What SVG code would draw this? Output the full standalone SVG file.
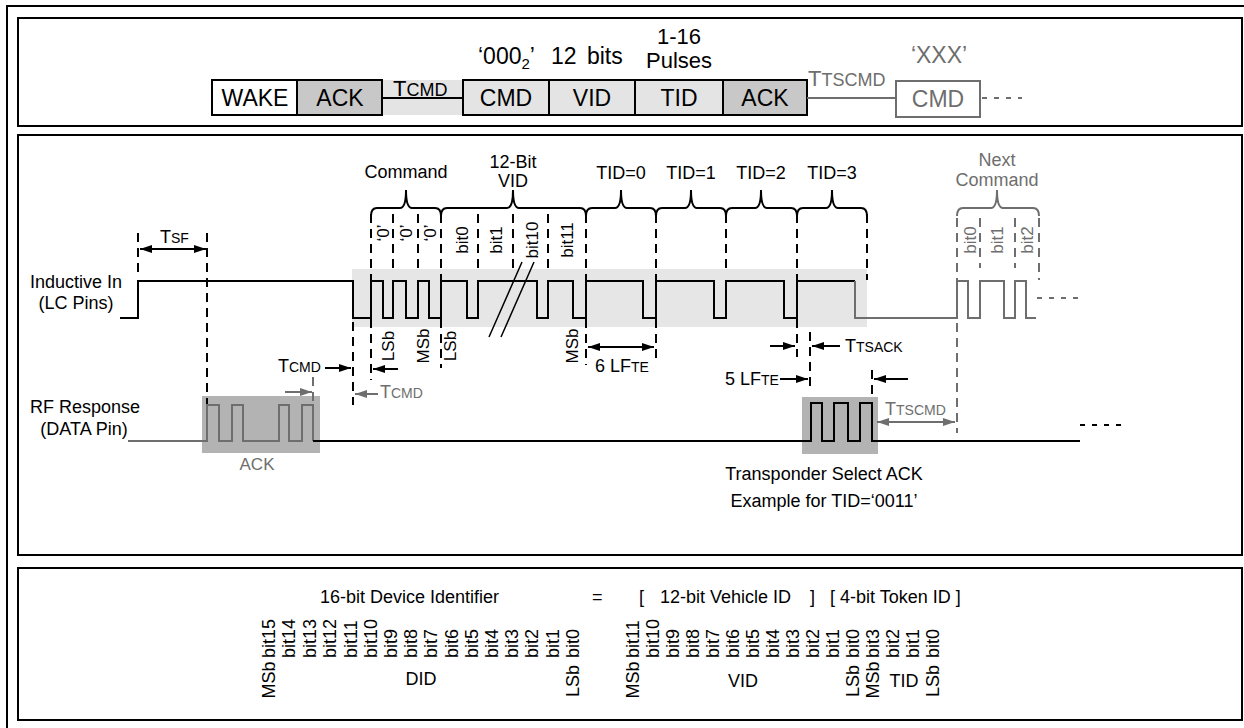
<svg xmlns="http://www.w3.org/2000/svg" width="1244" height="728" viewBox="0 0 1244 728">
<defs>
<style>
text{font-family:"Liberation Sans",Arial,Helvetica,sans-serif;fill:#000}
.g{fill:#6e6e6e}
.f23{font-size:23px}
.f18{font-size:18px}
.mid{text-anchor:middle}
.rt{font-size:17px;text-anchor:middle;dominant-baseline:central}
.rg{font-size:17px;text-anchor:middle;dominant-baseline:central;fill:#6e6e6e}
.rb{font-size:18px;text-anchor:start;dominant-baseline:central}
.rm{font-size:18px;text-anchor:middle;dominant-baseline:central}
.panel{fill:#fff;stroke:#000;stroke-width:2}
.box{stroke:#000;stroke-width:2}
.wave{fill:none;stroke:#000;stroke-width:2}
.waveg{fill:none;stroke:#6e6e6e;stroke-width:2}
.dash{fill:none;stroke:#000;stroke-width:2;stroke-dasharray:9 6}
.dashg{fill:none;stroke:#6e6e6e;stroke-width:2;stroke-dasharray:9 6}
.dot{fill:none;stroke:#000;stroke-width:2;stroke-dasharray:5 7}
.dotg{fill:none;stroke:#6e6e6e;stroke-width:2;stroke-dasharray:5 7}
.brace{fill:none;stroke:#000;stroke-width:2}
.braceg{fill:none;stroke:#6e6e6e;stroke-width:2}
.arr{fill:none;stroke:#000;stroke-width:2;marker-end:url(#ah)}
.arr2{fill:none;stroke:#000;stroke-width:2;marker-end:url(#ah);marker-start:url(#ah)}
.arrg{fill:none;stroke:#6e6e6e;stroke-width:2;marker-end:url(#ahg)}
.arrg2{fill:none;stroke:#6e6e6e;stroke-width:2;marker-end:url(#ahg);marker-start:url(#ahg)}
</style>
<marker id="ah" viewBox="0 0 12 8" refX="12" refY="4" markerWidth="12" markerHeight="8" markerUnits="userSpaceOnUse" orient="auto-start-reverse"><path d="M0,0 L12,4 L0,8 z" fill="#000"/></marker>
<marker id="ahg" viewBox="0 0 12 8" refX="12" refY="4" markerWidth="12" markerHeight="8" markerUnits="userSpaceOnUse" orient="auto-start-reverse"><path d="M0,0 L12,4 L0,8 z" fill="#6e6e6e"/></marker>
</defs>
<rect width="1244" height="728" fill="#fff"/>

<!-- outer frame -->
<g id="frame">
<path d="M7,728 V6 H1244" fill="none" stroke="#000" stroke-width="2"/>
<rect class="panel" x="18" y="18" width="1224" height="108"/>
<rect class="panel" x="18" y="135" width="1224" height="420"/>
<rect class="panel" x="18" y="568" width="1224" height="152"/>
</g>

<!-- top panel -->
<g id="top-sequence">
<rect x="382" y="80" width="81" height="35" fill="#e4e4e4"/>
<g id="box-wake"><rect class="box" x="212" y="80" width="85" height="35" fill="#fff"/><text class="f23 mid" x="255" y="106">WAKE</text></g>
<g id="box-ack1"><rect class="box" x="297" y="80" width="85" height="35" fill="#c8c8c8"/><text class="f23 mid" x="340" y="106">ACK</text></g>
<g id="box-cmd"><rect class="box" x="463" y="80" width="86" height="35" fill="#e4e4e4"/><text class="f23 mid" x="506" y="106">CMD</text></g>
<g id="box-vid"><rect class="box" x="549" y="80" width="86" height="35" fill="#e4e4e4"/><text class="f23 mid" x="592" y="106">VID</text></g>
<g id="box-tid"><rect class="box" x="635" y="80" width="88" height="35" fill="#e4e4e4"/><text class="f23 mid" x="679" y="106">TID</text></g>
<g id="box-ack2"><rect class="box" x="723" y="80" width="84" height="35" fill="#c8c8c8"/><text class="f23 mid" x="765" y="106">ACK</text></g>
<g id="box-cmd-next"><rect x="896" y="81" width="84" height="36" fill="#fff" stroke="#6e6e6e" stroke-width="2"/><text class="f23 mid g" x="938" y="107">CMD</text></g>
</g>
<g id="top-connectors">
<line x1="382" y1="98" x2="463" y2="98" stroke="#000" stroke-width="2"/>
<line x1="807" y1="98" x2="896" y2="98" stroke="#6e6e6e" stroke-width="2"/>
<line class="dotg" x1="982" y1="98" x2="1022" y2="98"/>
</g>
<g id="top-labels">
<text x="393" y="96" style="font-size:22px">T<tspan style="font-size:18px">CMD</tspan></text>
<text class="g" x="808" y="86" style="font-size:22px">T<tspan style="font-size:18px">TSCMD</tspan></text>
<text class="f23" x="478" y="64">‘000<tspan style="font-size:15px" dy="5">2</tspan><tspan dy="-5">’</tspan></text>
<text class="f23" x="551" y="64" word-spacing="4">12 bits</text>
<text class="mid" x="679" y="43.5" style="font-size:22px">1-16</text>
<text class="mid" x="679" y="68" style="font-size:22px">Pulses</text>
<text class="f23 mid g" x="939" y="63">‘XXX’</text>
</g>

<!-- middle panel -->
<g id="timing-backgrounds">
<rect x="352" y="269" width="515" height="58" fill="#e6e6e6"/>
<rect x="202" y="396" width="118" height="57" fill="#b3b3b3"/>
<rect x="802" y="397" width="76" height="57" fill="#b3b3b3"/>
</g>

<g id="signal-labels">
<text class="f18 mid" x="76" y="288">Inductive In</text>
<text class="f18 mid" x="76" y="309">(LC Pins)</text>
<text class="f18 mid" x="85" y="413">RF Response</text>
<text class="f18 mid" x="84" y="435">(DATA Pin)</text>
</g>

<g id="connectors">
<!-- dashed guides -->
<path class="dash" d="M138,233 V278 M207,233 V405 M353,322 V405 M371,214 V380 M393,214 V268 M418,214 V268 M441,214 V368 M478,214 V268 M513,214 V268 M548,214 V268 M586,214 V365 M656,214 V362 M726,214 V273 M797,214 V357 M867,214 V280 M810,332 V387 M872,370 V398"/>
<path class="dashg" d="M313,377 V403 M957,218 V433 M980,218 V268 M1015,218 V268 M1039,218 V280"/>
<!-- braces -->
<path class="brace" d="M371,216 Q371,208 377,208 H400 Q406,208 406,190 Q406,208 412,208 H435 Q441,208 441,216"/>
<path class="brace" d="M441,216 Q441,208 447,208 H507 Q513,208 513,190 Q513,208 519,208 H580 Q586,208 586,216"/>
<path class="brace" d="M586,216 Q586,208 592,208 H615 Q621,208 621,190 Q621,208 627,208 H650 Q656,208 656,216"/>
<path class="brace" d="M656,216 Q656,208 662,208 H685 Q691,208 691,190 Q691,208 697,208 H720 Q726,208 726,216"/>
<path class="brace" d="M726,216 Q726,208 732,208 H755 Q761,208 761,190 Q761,208 767,208 H791 Q797,208 797,216"/>
<path class="brace" d="M797,216 Q797,208 803,208 H826 Q832,208 832,190 Q832,208 838,208 H861 Q867,208 867,216"/>
<path class="braceg" d="M957,216 Q957,208 963,208 H991 Q997,208 997,190 Q997,208 1003,208 H1033 Q1039,208 1039,216"/>
<!-- waveforms -->
<path class="wave" d="M120,318 H138 V281 H353 V318 H371 V281 H383 V318 H393 V281 H406 V318 H418 V281 H429 V318 H441 V281 H467 V318 H478 V281 H537 V318 H548 V281 H573 V318 H586 V281 H643 V318 H656 V281 H714 V318 H726 V281 H784 V318 H797 V281 H855"/>
<path class="waveg" d="M855,281 V318 H957 V281 H968 V318 H980 V281 H1004 V318 H1015 V281 H1026 V318 H1036"/>
<path class="dotg" d="M1037,298 H1080"/>
<path d="M489,337 L522,262 M501,337 L534,262" stroke="#000" stroke-width="1.5" fill="none"/>
<path class="waveg" d="M128,441 H207 V405 H219 V441 H232 V405 H243 V441 H279 V405 H289 V441 H302 V405 H313 V441"/>
<path class="wave" d="M313,441 H811 V403 H822 V441 H834 V403 H848 V441 H860 V403 H872 V441 H1080"/>
<path class="dot" d="M1080,425 H1124"/>
<!-- arrows -->
<line class="arr2" x1="140" y1="249" x2="206" y2="249"/>
<line class="arr" x1="325" y1="368" x2="351" y2="368"/>
<line class="arr" x1="398" y1="369" x2="373" y2="369"/>
<line class="arrg" x1="285" y1="392" x2="312" y2="392"/>
<line class="arrg" x1="378" y1="394" x2="355" y2="394"/>
<line class="arr2" x1="588" y1="347" x2="654" y2="347"/>
<line class="arr" x1="770" y1="346" x2="795" y2="346"/>
<line class="arr" x1="840" y1="346" x2="812" y2="346"/>
<line class="arr" x1="780" y1="379" x2="808" y2="379"/>
<line class="arr" x1="908" y1="379" x2="874" y2="379"/>
<line class="arrg2" x1="877" y1="422" x2="955" y2="422"/>
</g>

<g id="timing-labels">
<text class="f18 mid" x="406" y="178">Command</text>
<text class="f18 mid" x="513" y="168">12-Bit</text>
<text class="f18 mid" x="513" y="187">VID</text>
<text class="f18 mid" x="621" y="179">TID=0</text>
<text class="f18 mid" x="691" y="179">TID=1</text>
<text class="f18 mid" x="761" y="179">TID=2</text>
<text class="f18 mid" x="832" y="179">TID=3</text>
<text class="f18 mid g" x="997" y="166">Next</text>
<text class="f18 mid g" x="997" y="186">Command</text>
<text x="160" y="243" style="font-size:18px">T<tspan style="font-size:14px">SF</tspan></text>
<text x="278" y="372" style="font-size:18px">T<tspan style="font-size:14px">CMD</tspan></text>
<text class="g" x="380" y="398" style="font-size:18px">T<tspan style="font-size:14px">CMD</tspan></text>
<text x="595" y="372" style="font-size:18px">6 LF<tspan style="font-size:14px">TE</tspan></text>
<text x="725" y="385" style="font-size:18px">5 LF<tspan style="font-size:14px">TE</tspan></text>
<text x="845" y="352" style="font-size:18px">T<tspan style="font-size:14px">TSACK</tspan></text>
<text class="g" x="885" y="415" style="font-size:18px">T<tspan style="font-size:14px">TSCMD</tspan></text>
<text class="mid g" x="257" y="470" style="font-size:17px">ACK</text>
<text class="f18 mid" x="824" y="480">Transponder Select ACK</text>
<text class="f18 mid" x="824" y="507">Example for TID=‘0011’</text>
<!-- rotated bit labels -->
<text class="rt" transform="translate(383,233) rotate(-90)">‘0’</text>
<text class="rt" transform="translate(406,233) rotate(-90)">‘0’</text>
<text class="rt" transform="translate(430,233) rotate(-90)">‘0’</text>
<text class="rt" transform="translate(462,240) rotate(-90)">bit0</text>
<text class="rt" transform="translate(496,240) rotate(-90)">bit1</text>
<text class="rt" transform="translate(532,240) rotate(-90)">bit10</text>
<text class="rt" transform="translate(567,240) rotate(-90)">bit11</text>
<text class="rt" transform="translate(388,346) rotate(-90)">LSb</text>
<text class="rt" transform="translate(423,346) rotate(-90)">MSb</text>
<text class="rt" transform="translate(450,346) rotate(-90)">LSb</text>
<text class="rt" transform="translate(572,346) rotate(-90)">MSb</text>
<text class="rg" transform="translate(970,240) rotate(-90)">bit0</text>
<text class="rg" transform="translate(997,240) rotate(-90)">bit1</text>
<text class="rg" transform="translate(1027,240) rotate(-90)">bit2</text>
</g>

<!-- bottom panel -->
<g id="identifier">
<text class="f18" x="320" y="603">16-bit Device Identifier</text>
<text class="f18" x="592" y="603">=</text>
<text class="f18" x="639" y="603">[</text>
<text class="f18" x="660" y="603">12-bit Vehicle ID</text>
<text class="f18" x="810" y="603">]</text>
<text class="f18" x="830" y="603">[ 4-bit Token ID ]</text>
<text class="f18 mid" x="421" y="685">DID</text>
<text class="f18 mid" x="743" y="687">VID</text>
<text class="f18 mid" x="904" y="687">TID</text>
<g id="did-bits">
<text class="rb" transform="translate(269,658) rotate(-90)">bit15</text>
<text class="rb" transform="translate(289,658) rotate(-90)">bit14</text>
<text class="rb" transform="translate(310,658) rotate(-90)">bit13</text>
<text class="rb" transform="translate(330,658) rotate(-90)">bit12</text>
<text class="rb" transform="translate(351,658) rotate(-90)">bit11</text>
<text class="rb" transform="translate(371,658) rotate(-90)">bit10</text>
<text class="rb" transform="translate(391,658) rotate(-90)">bit9</text>
<text class="rb" transform="translate(411,658) rotate(-90)">bit8</text>
<text class="rb" transform="translate(431,658) rotate(-90)">bit7</text>
<text class="rb" transform="translate(452,658) rotate(-90)">bit6</text>
<text class="rb" transform="translate(472,658) rotate(-90)">bit5</text>
<text class="rb" transform="translate(492,658) rotate(-90)">bit4</text>
<text class="rb" transform="translate(512,658) rotate(-90)">bit3</text>
<text class="rb" transform="translate(532,658) rotate(-90)">bit2</text>
<text class="rb" transform="translate(553,658) rotate(-90)">bit1</text>
<text class="rb" transform="translate(573,658) rotate(-90)">bit0</text>
<text class="rm" transform="translate(269,680) rotate(-90)">MSb</text>
<text class="rm" transform="translate(573,681) rotate(-90)">LSb</text>
</g>
<g id="vid-tid-bits">
<text class="rb" transform="translate(633,658) rotate(-90)">bit11</text>
<text class="rb" transform="translate(653,658) rotate(-90)">bit10</text>
<text class="rb" transform="translate(673,658) rotate(-90)">bit9</text>
<text class="rb" transform="translate(693,658) rotate(-90)">bit8</text>
<text class="rb" transform="translate(713,658) rotate(-90)">bit7</text>
<text class="rb" transform="translate(733,658) rotate(-90)">bit6</text>
<text class="rb" transform="translate(753,658) rotate(-90)">bit5</text>
<text class="rb" transform="translate(773,658) rotate(-90)">bit4</text>
<text class="rb" transform="translate(793,658) rotate(-90)">bit3</text>
<text class="rb" transform="translate(813,658) rotate(-90)">bit2</text>
<text class="rb" transform="translate(833,658) rotate(-90)">bit1</text>
<text class="rb" transform="translate(853,658) rotate(-90)">bit0</text>
<text class="rb" transform="translate(873,658) rotate(-90)">bit3</text>
<text class="rb" transform="translate(893,658) rotate(-90)">bit2</text>
<text class="rb" transform="translate(913,658) rotate(-90)">bit1</text>
<text class="rb" transform="translate(933,658) rotate(-90)">bit0</text>
<text class="rm" transform="translate(633,680) rotate(-90)">MSb</text>
<text class="rm" transform="translate(853,681) rotate(-90)">LSb</text>
<text class="rm" transform="translate(873,680) rotate(-90)">MSb</text>
<text class="rm" transform="translate(933,681) rotate(-90)">LSb</text>
</g>
</g>
</svg>
